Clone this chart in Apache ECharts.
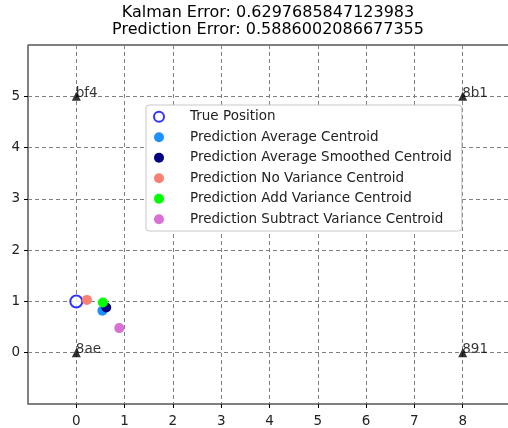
<!DOCTYPE html>
<html><head><meta charset="utf-8">
<script src="https://cdn.jsdelivr.net/npm/echarts@6/dist/echarts.min.js"></script>
<style>html,body{margin:0;padding:0;background:#fff;overflow:hidden}#c{width:520px;height:428px}</style>
</head><body><div id="c"></div>
<script>
const titleLines = ['Kalman Error: 0.6297685847123983', 'Prediction Error: 0.5886002086677355'];
const xTicks = [0, 1, 2, 3, 4, 5, 6, 7, 8];
const yTicks = [0, 1, 2, 3, 4, 5];
const anchors = [[0, 0, '8ae'], [0, 5, 'bf4'], [8, 5, '8b1'], [8, 0, '891']];
const truePosition = [[0, 1]];
const predAverage = [[0.54, 0.82]];
const predAvgSmoothed = [[0.62, 0.88]];
const predNoVariance = [[0.22, 1.03]];
const predAddVariance = [[0.55, 0.98]];
const predSubVariance = [[0.89, 0.48]];
const seriesNames = ['True Position', 'Prediction Average Centroid', 'Prediction Average Smoothed Centroid',
  'Prediction No Variance Centroid', 'Prediction Add Variance Centroid', 'Prediction Subtract Variance Centroid'];

const font = 'DejaVu Sans';
const chart = echarts.init(document.getElementById('c'), null, {renderer: 'canvas'});
const dot = (name, data, color) => ({
  name, type: 'scatter', data, symbol: 'circle', symbolSize: 10,
  itemStyle: {color, opacity: 1}, emphasis: {disabled: true}, z: 3
});
chart.setOption({
  animation: false,
  textStyle: {fontFamily: font},
  graphic: [
    {type: 'text', x: 268, y: 13, style: {text: titleLines[0], font: '16px "DejaVu Sans"', fill: '#000', align: 'center', verticalAlign: 'middle'}},
    {type: 'text', x: 268, y: 30, style: {text: titleLines[1], font: '16px "DejaVu Sans"', fill: '#000', align: 'center', verticalAlign: 'middle'}}
  ],
  grid: {left: 28, width: 483, top: 45, bottom: 24, show: true, borderColor: '#000', borderWidth: 1, backgroundColor: 'transparent'},
  xAxis: {
    type: 'value', min: -1, max: 9, interval: 1,
    axisLine: {show: true, onZero: false, lineStyle: {color: '#808080', width: 1.5}},
    axisTick: {show: true, length: 4, customValues: xTicks, lineStyle: {color: '#000'}},
    axisLabel: {color: '#222', fontSize: 13.5, fontFamily: font, margin: 10, customValues: xTicks},
    splitLine: {show: true, lineStyle: {color: '#808080', type: [4, 3], width: 1}}
  },
  yAxis: {
    type: 'value', min: -1, max: 6, interval: 1,
    axisLine: {show: true, onZero: false, lineStyle: {color: '#808080', width: 1.5}},
    axisTick: {show: true, length: 4, customValues: yTicks, lineStyle: {color: '#000'}},
    axisLabel: {color: '#222', fontSize: 13.5, fontFamily: font, margin: 8, customValues: yTicks},
    splitLine: {show: true, lineStyle: {color: '#808080', type: [4, 3], width: 1}}
  },
  legend: {
    data: seriesNames, orient: 'vertical', left: 146, top: 105,
    padding: [4, 10, 4, 7], itemGap: 5, itemWidth: 24, itemHeight: 10,
    backgroundColor: '#fff', borderColor: '#c8c8c8', borderWidth: 1, borderRadius: 3,
    textStyle: {fontSize: 13.5, fontFamily: font, color: '#222', lineHeight: 15.5, padding: [0, 0, 0, 14]},
    selectedMode: false, z: 10
  },
  series: [
    {name: seriesNames[0], type: 'scatter', data: truePosition, symbol: 'emptyCircle', symbolSize: 12,
      itemStyle: {color: '#0000ff', borderColor: '#0000ff', borderWidth: 1.5}, emphasis: {disabled: true}, z: 3},
    dot(seriesNames[1], predAverage, '#1e90ff'),
    dot(seriesNames[2], predAvgSmoothed, '#000080'),
    dot(seriesNames[3], predNoVariance, '#fa8072'),
    dot(seriesNames[4], predAddVariance, '#00ff00'),
    dot(seriesNames[5], predSubVariance, '#da70d6'),
    {name: 'anchors', type: 'scatter', symbol: 'triangle', symbolSize: 9,
      data: anchors.map(a => ({value: [a[0], a[1]], label: {formatter: a[2]}})),
      itemStyle: {color: '#000'}, emphasis: {disabled: true}, z: 4,
      label: {show: true, position: 'right', distance: 0, offset: [-5, -3], fontSize: 13.5, fontFamily: font, color: '#000'}}
  ]
});
</script></body></html>
